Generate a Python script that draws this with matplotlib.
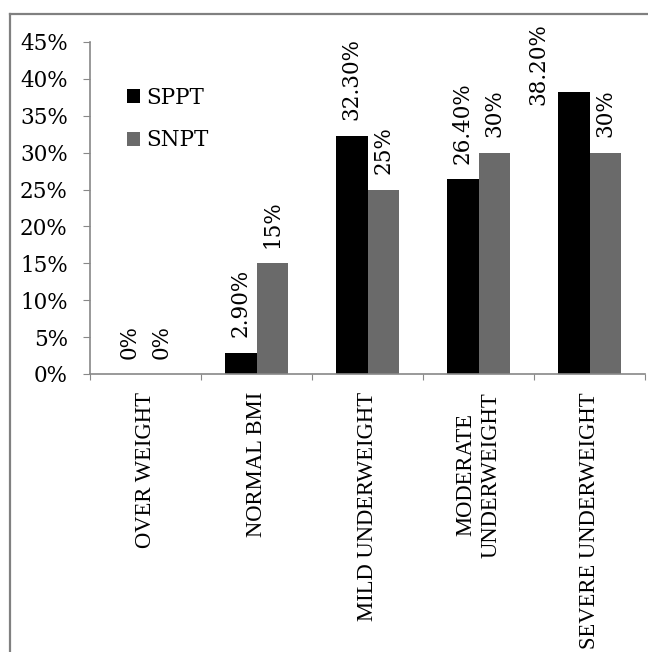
import matplotlib
matplotlib.use('Agg')
import matplotlib.pyplot as plt
from matplotlib.lines import Line2D
from matplotlib.ticker import FuncFormatter, MultipleLocator
import numpy as np

categories = ['OVER WEIGHT', 'NORMAL BMI', 'MILD UNDERWEIGHT',
              'MODERATE\nUNDERWEIGHT', 'SEVERE UNDERWEIGHT']
sppt = [0, 2.9, 32.3, 26.4, 38.2]
snpt = [0, 15, 25, 30, 30]
series_names = ['SPPT', 'SNPT']

num_font = 'DejaVu Serif'
cat_font = 'Liberation Serif'

fig = plt.figure(figsize=(6.48, 6.52), dpi=100)
ax = fig.add_axes([90/648, 1 - 374/652, 555/648, 332/652])

x = np.arange(len(categories))
w = 0.288
b1 = ax.bar(x - w/2, sppt, w, color='black', label=series_names[0])
b2 = ax.bar(x + w/2, snpt, w, color='#6a6a6a', label=series_names[1])

def lab1(v):
    return '0%' if v == 0 else '%.2f%%' % v

def lab2(v):
    return '%.0f%%' % v

for bars, vals, fmt in [(b1, sppt, lab1), (b2, snpt, lab2)]:
    for r, v in zip(bars, vals):
        if v > 35:
            # no room above the bar: tuck the label at its left, below the top
            ax.annotate(fmt(v), (r.get_x(), 1.057), xycoords=('data', 'axes fraction'),
                        xytext=(-6, 0), textcoords='offset points', rotation=90,
                        ha='right', va='top', fontsize=15.5, family=num_font,
                        annotation_clip=False)
        else:
            ax.annotate(fmt(v), (r.get_x() + r.get_width()/2, v), xytext=(0, 11),
                        textcoords='offset points', rotation=90, ha='center', va='bottom',
                        fontsize=15.5, family=num_font)

ax.set_xlim(-0.5, len(categories) - 0.5)
ax.set_ylim(0, 45)
ax.yaxis.set_major_locator(MultipleLocator(5))
ax.yaxis.set_major_formatter(FuncFormatter(lambda v, p: '%.0f%%' % v))
ax.set_xticks(list(x - 0.5) + [len(categories) - 0.5])
ax.set_xticklabels([])
ax.tick_params(axis='x', length=4.5, color='#888888')
ax.tick_params(axis='y', length=5, color='#888888', pad=11, labelsize=15.5)
for t in ax.get_yticklabels():
    t.set_family(num_font)

# category names sit under the middle of each group
for i, c in enumerate(categories):
    ax.annotate(c, (i, 0), xytext=(0, -13), textcoords='offset points',
                rotation=90, ha='center', va='top', multialignment='center',
                fontsize=16.3, family=cat_font, annotation_clip=False)

for s in ['top', 'right']:
    ax.spines[s].set_visible(False)
for s in ['left', 'bottom']:
    ax.spines[s].set_color('#888888')
    ax.spines[s].set_linewidth(1.2)

leg = ax.legend(loc='upper left', bbox_to_anchor=(0.066, 0.865), frameon=False,
                borderpad=0, borderaxespad=0, labelspacing=0.95,
                handlelength=0.6, handleheight=0.6, handletextpad=0.3,
                prop={'family': num_font, 'size': 15.5})

# outer frame
fig.add_artist(Line2D([10/648, 1], [1 - 14/652, 1 - 14/652], color='#808080', lw=1.6))
fig.add_artist(Line2D([10/648, 10/648], [0, 1 - 14/652], color='#808080', lw=1.6))

fig.savefig('out.png', dpi=100)
